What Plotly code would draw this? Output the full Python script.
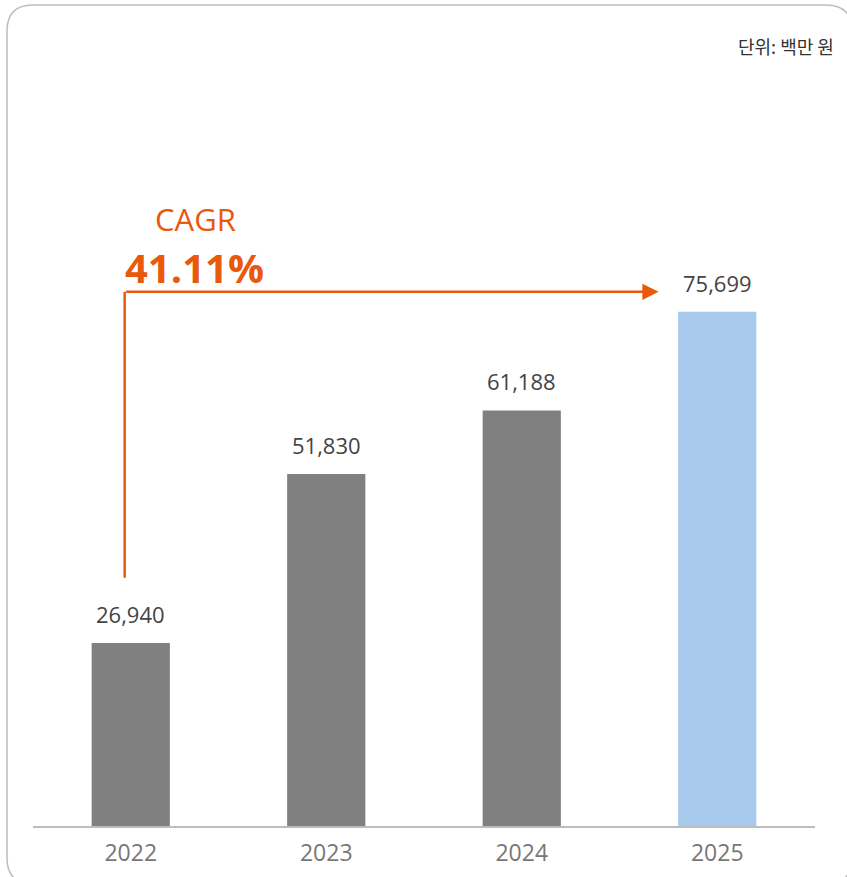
import plotly.graph_objects as go

years = ["2022", "2023", "2024", "2025"]
values = [26940, 51830, 61188, 75699]
value_labels = ["26,940", "51,830", "61,188", "75,699"]
bar_colors = ["#808080", "#808080", "#808080", "#A7CAEC"]
cagr_title = "CAGR"
cagr_value = "41.11%"
unit_text = "단위: 백만 원"

W, H = 847, 877
ML, MR, MT, MB = 33, 32, 70, 51
ymax = 111300

ORANGE = "#E8590C"
FONT = "Open Sans, Lato, sans-serif"

def px_x(px):
    return (px - ML) / (W - ML - MR)

def px_y(py):
    return (H - MB - py) / (H - MT - MB)

idx = list(range(len(years)))

fig = go.Figure()
fig.add_trace(go.Bar(
    x=idx, y=values, marker=dict(color=bar_colors, line=dict(width=0)),
    width=0.4, hoverinfo="skip",
))

# rounded border
x0, x1, y0, y1, r = 7, 852, 5, 884, 26
rx = r / (W - ML - MR)
ry = r / (H - MT - MB)
X0, X1, Y0, Y1 = px_x(x0), px_x(x1), px_y(y0), px_y(y1)
path = (f"M {X0+rx},{Y0} L {X1-rx},{Y0} Q {X1},{Y0} {X1},{Y0-ry} "
        f"L {X1},{Y1+ry} Q {X1},{Y1} {X1-rx},{Y1} L {X0+rx},{Y1} "
        f"Q {X0},{Y1} {X0},{Y1+ry} L {X0},{Y0-ry} Q {X0},{Y0} {X0+rx},{Y0} Z")

arrow_y = values[-1] * 1.039
line_bottom = values[0] * 1.356
line_x = -0.031
arrow_end_x = 2.70

annotations = [
    dict(x=i, y=v, xref="x", yref="y", text=lab, showarrow=False,
         xanchor="center", yanchor="middle", yshift=29,
         font=dict(size=22, color="#444444", family=FONT))
    for i, v, lab in zip(idx, values, value_labels)
]
annotations += [
    dict(x=arrow_end_x, y=arrow_y, ax=line_x, ay=arrow_y,
         xref="x", yref="y", axref="x", ayref="y", showarrow=True,
         arrowhead=2, arrowsize=1.3, arrowwidth=2.5, arrowcolor=ORANGE,
         text=""),
    dict(x=px_x(195), y=px_y(219), xref="paper", yref="paper",
         xanchor="center", yanchor="middle",
         text=cagr_title, showarrow=False,
         font=dict(size=31, color=ORANGE, family=FONT)),
    dict(x=px_x(194), y=px_y(267), xref="paper", yref="paper",
         xanchor="center", yanchor="middle",
         text=f"<b>{cagr_value}</b>", showarrow=False,
         font=dict(size=40, color=ORANGE, family=FONT)),
    dict(x=px_x(836), y=px_y(46), xref="paper", yref="paper",
         xanchor="right", yanchor="middle", text=unit_text, showarrow=False,
         font=dict(size=18, color="#333333", family="Noto Sans CJK KR")),
]

fig.update_layout(
    width=W, height=H,
    margin=dict(l=ML, r=MR, t=MT, b=MB),
    plot_bgcolor="white", paper_bgcolor="white",
    showlegend=False, bargap=0.6,
    xaxis=dict(range=[-0.5, 3.5], showgrid=False, zeroline=False,
               tickmode="array", tickvals=idx, ticktext=years,
               showline=True, linecolor="#BDBDBD", linewidth=1.5,
               ticks="", ticklabelstandoff=6, automargin=False,
               tickfont=dict(size=23, color="#777777", family=FONT),
               fixedrange=True),
    yaxis=dict(range=[0, ymax], visible=False, showgrid=False, fixedrange=True,
               automargin=False),
    shapes=[
        dict(type="path", xref="paper", yref="paper", path=path,
             line=dict(color="#BDBDBD", width=1.5), fillcolor="rgba(0,0,0,0)",
             layer="below"),
        dict(type="line", xref="x", yref="y", x0=line_x, x1=line_x,
             y0=line_bottom, y1=arrow_y, line=dict(color=ORANGE, width=2.5)),
    ],
    annotations=annotations,
)

fig.write_html("out.html", config={"displayModeBar": False},
               post_script="document.body.style.margin='0';document.body.style.overflow='hidden';")
